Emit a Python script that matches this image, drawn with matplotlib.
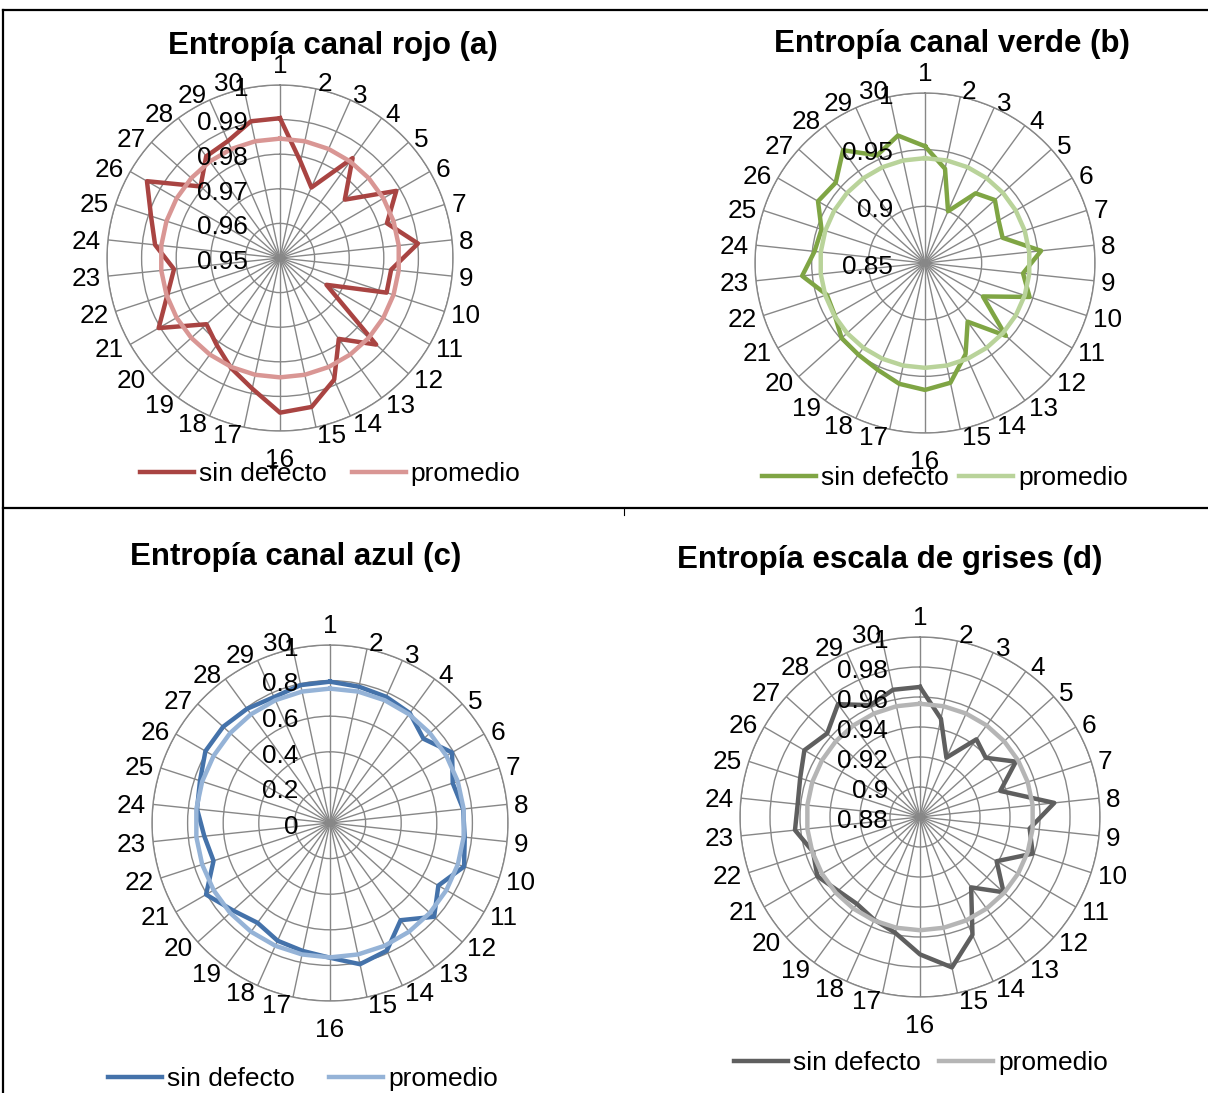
import matplotlib

matplotlib.use("Agg")
import matplotlib.pyplot as plt
import numpy as np
from matplotlib.lines import Line2D

plt.rcParams["font.family"] = ["Liberation Sans", "DejaVu Sans"]

W, H = 1208, 1093

# ---- data ----------------------------------------------------------------
CATEGORIES = [str(i) for i in range(1, 31)]

RED_SIN_DEFECTO = [
    0.9904, 0.9785, 0.9723, 0.9857, 0.9752, 0.9888, 0.9825, 0.9901, 0.9823, 0.9824,
    0.9655, 0.9874, 0.9789, 0.9885, 0.9940, 0.9947, 0.9886, 0.9848, 0.9811, 0.9786,
    0.9905, 0.9842, 0.9808, 0.9863, 0.9892, 0.9944, 0.9809, 0.9863, 0.9870, 0.9904,
]
RED_PROMEDIO = 0.9845
RED_TICKS = [0.95, 0.96, 0.97, 0.98, 0.99, 1.0]

GREEN_SIN_DEFECTO = [
    0.953, 0.935, 0.900, 0.926, 0.933, 0.925, 0.922, 0.953, 0.937, 0.947,
    0.909, 0.946, 0.914, 0.938, 0.958, 0.962, 0.959, 0.953, 0.950, 0.949,
    0.942, 0.941, 0.959, 0.948, 0.946, 0.959, 0.956, 0.973, 0.954, 0.965,
]
GREEN_PROMEDIO = 0.9425
GREEN_TICKS = [0.85, 0.9, 0.95, 1.0]

BLUE_SIN_DEFECTO = [
    0.794, 0.783, 0.776, 0.763, 0.707, 0.792, 0.725, 0.752, 0.761, 0.792,
    0.703, 0.787, 0.675, 0.785, 0.811, 0.757, 0.735, 0.724, 0.693, 0.734,
    0.804, 0.688, 0.710, 0.751, 0.768, 0.808, 0.808, 0.793, 0.774, 0.792,
]
BLUE_PROMEDIO = 0.755
BLUE_TICKS = [0, 0.2, 0.4, 0.6, 0.8, 1.0]

GRAY_SIN_DEFECTO = [
    0.9667, 0.947, 0.9233, 0.944, 0.939, 0.9538, 0.9363, 0.970, 0.9535, 0.959,
    0.939, 0.955, 0.938, 0.966, 0.9825, 0.9716, 0.959, 0.955, 0.9516, 0.9535,
    0.959, 0.955, 0.9638, 0.962, 0.964, 0.969, 0.9633, 0.973, 0.9616, 0.9667,
]
GRAY_PROMEDIO = 0.9555
GRAY_TICKS = [0.88, 0.9, 0.92, 0.94, 0.96, 0.98, 1.0]

GRID = "#878787"
FS = 18.8
CAP = 0.716 * FS  # cap height of the digits, in points
PT = 0.72  # points per pixel at dpi 100


def fx(x):
    return x / W


def fy(y):
    return 1 - y / H


def draw_radar(fig, center, radius, values, average, ticks, dark, light):
    """Excel-like radar chart centred on `center` (pixels) with outer `radius`."""
    cx, cy = center
    rect = [fx(cx - radius), fy(cy + radius), 2 * radius / W, 2 * radius / H]
    ax = fig.add_axes(rect, projection="polar")
    ax.set_theta_zero_location("N")
    ax.set_theta_direction(-1)
    ax.set_axisbelow(True)

    theta = np.deg2rad(np.arange(len(CATEGORIES)) * 360 / len(CATEGORIES))
    closed = np.append(theta, theta[0])
    ax.plot(closed, np.append(values, values[0]), color=dark, lw=3.2, label="sin defecto")
    ax.plot(closed, np.full(closed.shape, average), color=light, lw=3.2, label="promedio")

    ax.set_ylim(ticks[0], ticks[-1])
    ax.set_yticks(ticks)
    ax.set_yticklabels([])
    ax.set_xticks(theta)
    ax.set_xticklabels([])
    ax.grid(color=GRID, lw=1.0)
    ax.spines["polar"].set_color(GRID)
    ax.spines["polar"].set_linewidth(1.0)

    # category labels: anchored 7 px outside the ring, text grows away from it
    for ang, lab in zip(theta, CATEGORIES):
        s, c = np.sin(ang), np.cos(ang)
        if abs(s) < 1e-6:
            ox = 0
            oy = (21 if c > 0 else -27) * PT
            ha = "center"
        else:
            ox = 7 * PT * s
            oy = 7 * PT * c
            ha = "left" if s > 0 else "right"
        ax.annotate(lab, xy=(ang, ticks[-1]), xytext=(ox, oy - CAP / 2),
                    textcoords="offset points", ha=ha, va="baseline",
                    fontsize=FS, annotation_clip=False)

    # value labels left of the vertical axis
    for t in ticks:
        ax.annotate(f"{t:g}", xy=(0, t), xytext=(-23, -CAP / 2 - 1), textcoords="offset points",
                    ha="right", va="baseline", fontsize=FS, annotation_clip=False)
    return ax


def add_legend(fig, ax, x, y, spacing):
    ax.legend(loc="center", bbox_to_anchor=(fx(x), fy(y)), bbox_transform=fig.transFigure,
              ncol=2, frameon=False, fontsize=19, handlelength=2.05, handletextpad=0.18,
              columnspacing=spacing, borderpad=0)


fig = plt.figure(figsize=(W / 100, H / 100), dpi=100)

# table borders
for xs, ys in [((3, W), (10, 10)), ((3, 3), (10, H)), ((3, W), (508, 508))]:
    fig.add_artist(Line2D([fx(v) for v in xs], [fy(v) for v in ys],
                          color="black", lw=1.6, transform=fig.transFigure))
fig.add_artist(Line2D([fx(624), fx(624)], [fy(508), fy(515)], color="black", lw=0.8,
                      transform=fig.transFigure))

title_kw = dict(ha="center", va="center", fontsize=22.5, fontweight="bold")
fig.text(fx(333), fy(46), "Entropía canal rojo (a)", **title_kw)
fig.text(fx(952), fy(44), "Entropía canal verde (b)", **title_kw)
fig.text(fx(296), fy(557), "Entropía canal azul (c)", **title_kw)
fig.text(fx(890), fy(560), "Entropía escala de grises (d)", **title_kw)

ax_r = draw_radar(fig, (280, 258), 173, RED_SIN_DEFECTO, RED_PROMEDIO, RED_TICKS,
                  "#A94442", "#D99694")
add_legend(fig, ax_r, 330, 474, 0.95)

ax_g = draw_radar(fig, (925, 263), 170, GREEN_SIN_DEFECTO, GREEN_PROMEDIO, GREEN_TICKS,
                  "#7FA544", "#B9D39A")
add_legend(fig, ax_g, 945, 478, 0.38)

ax_b = draw_radar(fig, (330, 823), 178, BLUE_SIN_DEFECTO, BLUE_PROMEDIO, BLUE_TICKS,
                  "#4472AA", "#95B3D7")
add_legend(fig, ax_b, 303, 1079, 1.3)

ax_k = draw_radar(fig, (920, 817), 180, GRAY_SIN_DEFECTO, GRAY_PROMEDIO, GRAY_TICKS,
                  "#5F5F5F", "#B5B5B5")
add_legend(fig, ax_k, 921, 1063, 0.7)

fig.savefig("out.png", dpi=100)
